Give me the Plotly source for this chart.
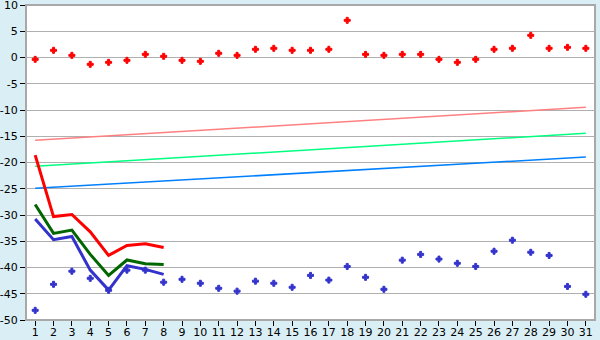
import plotly.graph_objects as go

days = list(range(1, 32))
red_points = [-0.35, 1.37, 0.41, -1.3, -0.92, -0.54, 0.6, 0.23, -0.54, -0.73,
              0.8, 0.41, 1.56, 1.75, 1.37, 1.37, 1.56, 7.08, 0.6, 0.41,
              0.6, 0.6, -0.35, -0.92, -0.35, 1.56, 1.75, 4.22, 1.75, 1.94, 1.75]
blue_points = [-48.16, -43.2, -40.7, -42.06, -44.35, -40.5, -40.5, -42.8, -42.25, -43.0,
               -43.96, -44.5, -42.6, -43.0, -43.77, -41.5, -42.4, -39.8, -41.87, -44.15,
               -38.6, -37.5, -38.4, -39.2, -39.8, -36.9, -34.8, -37.1, -37.7, -43.6, -45.1]

line_days = [1, 2, 3, 4, 5, 6, 7, 8]
red_line = [-18.6, -30.3, -29.9, -33.2, -37.7, -35.8, -35.5, -36.2]
green_line = [-28.0, -33.5, -32.86, -37.5, -41.5, -38.57, -39.3, -39.45]
blue_line = [-30.76, -34.7, -34.1, -40.5, -44.3, -39.65, -40.35, -41.3]

trend_days = [1, 31]
trend_pink = [-15.78, -9.49]
trend_green = [-20.73, -14.44]
trend_blue = [-24.92, -18.95]

y_ticks = [10, 5, 0, -5, -10, -15, -20, -25, -30, -35, -40, -45, -50]
y_top = y_ticks[0]

fig = go.Figure()
fig.add_trace(go.Scatter(x=trend_days, y=trend_pink, mode="lines",
                         line=dict(color="#FF8080", width=1.5)))
fig.add_trace(go.Scatter(x=trend_days, y=trend_green, mode="lines",
                         line=dict(color="#00FF80", width=1.5)))
fig.add_trace(go.Scatter(x=trend_days, y=trend_blue, mode="lines",
                         line=dict(color="#0080FF", width=1.5)))
fig.add_trace(go.Scatter(x=line_days, y=red_line, mode="lines",
                         line=dict(color="#FF0000", width=3)))
fig.add_trace(go.Scatter(x=line_days, y=green_line, mode="lines",
                         line=dict(color="#006600", width=3)))
fig.add_trace(go.Scatter(x=line_days, y=blue_line, mode="lines",
                         line=dict(color="#3333CC", width=3)))
fig.add_trace(go.Scatter(x=days, y=red_points, mode="markers",
                         marker=dict(symbol="cross", size=5, color="#FF0000",
                                     line=dict(color="#FF0000", width=1))))
fig.add_trace(go.Scatter(x=days, y=blue_points, mode="markers",
                         marker=dict(symbol="cross", size=5, color="#3333CC",
                                     line=dict(color="#3333CC", width=1))))

fig.update_layout(
    width=600, height=340,
    margin=dict(l=26, r=5, t=5, b=20, pad=0),
    paper_bgcolor="#DAEFF5",
    plot_bgcolor="#FFFFFF",
    showlegend=False,
    font=dict(family="DejaVu Sans", size=11, color="#000000"),
    xaxis=dict(range=[0.5, 31.5], tickvals=days, ticktext=[str(d) for d in days],
               automargin=False, ticklabelstandoff=-3,
               showgrid=False, zeroline=False, showline=True, linecolor="#A8A8A8",
               linewidth=1, mirror=False, ticks="outside", ticklen=5, tickcolor="#000000",
               tickfont=dict(size=11)),
    yaxis=dict(range=[-50, 10], tickvals=y_ticks, automargin=False,
               ticktext=["" if v == y_top else str(v) for v in y_ticks],
               showgrid=True, gridcolor="#B0B0B0",
               gridwidth=1, zeroline=False, showline=True, linecolor="#A8A8A8",
               linewidth=1, ticks="outside", ticklen=5, tickcolor="#000000",
               tickfont=dict(size=11)),
)
fig.add_shape(type="rect", xref="paper", yref="paper", x0=0, x1=1, y0=0, y1=1,
              line=dict(color="#A8A8A8", width=2), layer="below")
fig.add_annotation(text=str(y_top), xref="paper", yref="y", x=0, y=y_top,
                   xanchor="right", yanchor="middle", xshift=-6, showarrow=False,
                   font=dict(family="DejaVu Sans", size=11, color="#000000"))
fig.write_html("out.html")
